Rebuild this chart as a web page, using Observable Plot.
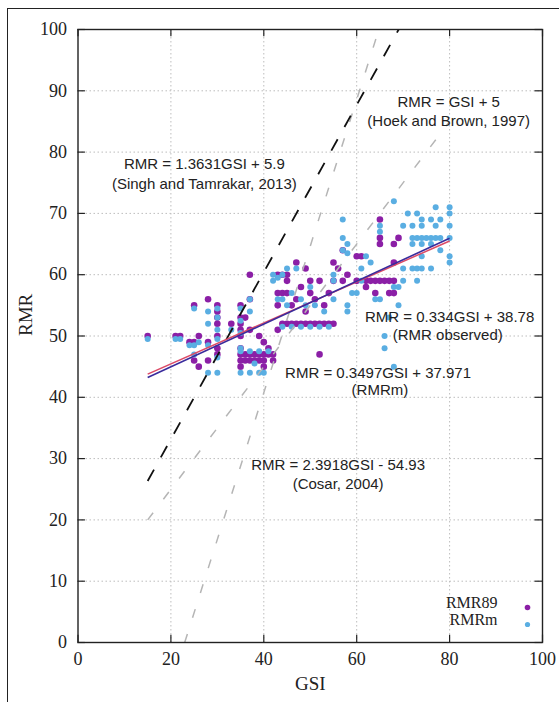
<!DOCTYPE html>
<html><head><meta charset="utf-8">
<script src="https://cdn.jsdelivr.net/npm/d3@7"></script>
<script src="https://cdn.jsdelivr.net/npm/@observablehq/plot@0.6"></script>
<style>
body{margin:0;background:#fff;}
#wrap{position:relative;width:559px;height:702px;overflow:hidden;background:#fff;}
#outer{position:absolute;left:7px;top:8px;width:620px;height:800px;border:1.5px solid #222;}
#chart{position:absolute;left:0;top:0;}
</style></head><body>
<div id="wrap"><div id="outer"></div><div id="chart"></div></div>
<script>
const xTicks = [0, 20, 40, 60, 80, 100];
const yTicks = [0, 10, 20, 30, 40, 50, 60, 70, 80, 90, 100];

// RMR89 observations [GSI, RMR]
const rmr89 = [[15,50],[21,50],[22,50],[24,49],[25,55],[25,49],[25,46],[26,50],[26,45],[28,56],[28,49],[28,46],
[30,55],[30,54],[30,53],[30,52],[30,50],[30,48],[30,47],[33,52],[35,55],[35,53],[35,52],[35,51],[35,50],[35,48],
[35,47],[35,46],[35,45],[36,53],[36,47],[36,46],[37,60],[37,56],[37,51],[37,47],[37,46],[38,47],[38,46],[39,50],
[39,47],[39,46],[40,49],[40,47],[40,46],[40,45],[41,48],[41,47],[42,47],[42,46],[43,60],[43,57],[43,55],[43,51],
[44,60],[44,57],[44,52],[45,60],[45,59],[45,57],[45,52],[46,55],[46,52],[47,62],[47,56],[47,52],[48,58],[48,52],
[49,61],[49,54],[49,52],[50,59],[50,57],[50,52],[51,56],[51,52],[52,59],[52,52],[52,47],[53,55],[53,52],[54,57],
[54,52],[55,62],[55,59],[55,52],[56,61],[57,64],[57,59],[58,60],[60,63],[60,59],[61,63],[62,59],[62,58],[63,59],
[64,59],[64,57],[65,69],[65,66],[65,65],[65,59],[66,59],[67,59],[67,57],[68,65],[68,62],[68,59],[68,57],[69,66]];

// RMRm values [GSI, RMR]
const rmrm = [[15,49.5],[21,49.5],[22,49.5],[24,48.5],[25,54.5],[25,48.5],[25,47],[26,49],[28,54],[28,52],[28,48.5],
[28,44],[30,54.5],[30,53],[30,51],[30,49.5],[30,46.5],[30,44],[33,51],[35,54.5],[35,52.5],[35,50.5],[35,48],[35,47.5],
[35,44],[37,56],[37,54],[37,47.5],[37,44],[38,45.5],[39,47.5],[39,44],[40,44],[41,47.5],
[42,60],[42,59],[43,59.5],[43,56],[44,60],[44,56],[44,51.5],[45,61],[45,55],[46,57],[46,51.5],
[47,61],[48,56],[48,51.5],[49,55],[50,58],[50,51.5],[51,55],[52,51.5],[53,54],
[54,51.5],[55,60],[55,59],[55,56],[57,69],[57,66],[57,64],[58,65],[58,63.5],[58,55],[58,54],[59,57],[60,57],[61,61],
[61,59],[62,63],[63,62],[64,56],[65,68],[65,67],[65,56],[66,50],[66,48],[67,53],[68,72],[68,58],[68,45],[69,58],[69,55],
[70,68],[70,61],[70,59],[71,70],[72,68],[72,66],[72,65],[72,61],[73,70],[73,66],[73,61],[73,59],[74,69],[74,68],[74,66],
[74,65],[74,63],[74,61],[75,66],[76,69],[76,66],[76,65],[76,61],[77,71],[77,68],[77,66],[78,69],[78,66],[78,64],
[80,71],[80,70],[80,68],[80,66],[80,63],[80,62]];

// Equations: slope, intercept, GSI range
const fitObserved = {a: 0.334, b: 38.78, from: 15, to: 80};
const fitM = {a: 0.3497, b: 37.971, from: 15, to: 80};
const singh = {a: 1.3631, b: 5.9, from: 15};
const hoek = {a: 1, b: 5, from: 15, to: 80};
const cosar = {a: 2.3918, b: -54.93};

const eqLabels = ["RMR = GSI + 5", "(Hoek and Brown, 1997)",
  "RMR = 1.3631GSI + 5.9", "(Singh and Tamrakar, 2013)",
  "RMR = 0.334GSI + 38.78", "(RMR observed)",
  "RMR = 0.3497GSI + 37.971", "(RMRm)",
  "RMR = 2.3918GSI - 54.93", "(Cosar, 2004)"];
const legendLabels = ["RMR89", "RMRm"];

const seg = (e, x1, x2) => [{x1, y1: e.a * x1 + e.b, x2, y2: e.a * x2 + e.b}];
const annPos = [[79.8,88.1],[79.8,85.0],[27.2,78.1],[27.2,74.7],[80.0,53.0],[79.6,50.1],[64.6,44.0],[65.0,41.1],[56.0,29.0],[56.0,25.9]];
const ann = eqLabels.map((t, i) => ({t, x: annPos[i][0], y: annPos[i][1]}));

const purple = "#8b1fa6", blue = "#5aaee2";

const chart = Plot.plot({
  width: 559, height: 702,
  marginLeft: 77.5, marginRight: 17, marginTop: 29, marginBottom: 60,
  style: {fontFamily: "'Liberation Serif','Times New Roman',serif", fontSize: "18px", background: "transparent", color: "#222"},
  x: {domain: [0, 100]},
  y: {domain: [0, 100]},
  marks: [
    Plot.gridX(xTicks.slice(1, -1), {stroke: "#bdbdbd", strokeOpacity: 1, strokeDasharray: "1.5,2.5"}),
    Plot.gridY(yTicks.slice(1, -1), {stroke: "#bdbdbd", strokeOpacity: 1, strokeDasharray: "1.5,2.5"}),
    Plot.axisX(xTicks, {tickSize: 0, tickPadding: 10, fontSize: 18, label: null, fill: "#222"}),
    Plot.axisY(yTicks, {tickSize: 0, tickPadding: 11, fontSize: 18, label: null, fill: "#222"}),
    Plot.ruleX(xTicks, {x: d => d, y1: 0, y2: 1.2, stroke: "#222", strokeWidth: 1.2}),
    Plot.ruleX(xTicks, {x: d => d, y1: 98.8, y2: 100, stroke: "#222", strokeWidth: 1.2}),
    Plot.ruleY(yTicks, {y: d => d, x1: 0, x2: 1.6, stroke: "#222", strokeWidth: 1.2}),
    Plot.ruleY(yTicks, {y: d => d, x1: 98.4, x2: 100, stroke: "#222", strokeWidth: 1.2}),
    Plot.dot(rmr89, {x: d => d[0], y: d => d[1], r: 3.3, fill: purple, stroke: "none"}),
    Plot.dot(rmrm, {x: d => d[0], y: d => d[1], r: 3, fill: blue, stroke: "none"}),
    Plot.link(seg(hoek, hoek.from, hoek.to), {x1: "x1", y1: "y1", x2: "x2", y2: "y2", stroke: "#b5b5b5", strokeWidth: 1.5, strokeDasharray: "9,17"}),
    Plot.link(seg(cosar, (0 - cosar.b) / cosar.a, (100 - cosar.b) / cosar.a), {x1: "x1", y1: "y1", x2: "x2", y2: "y2", stroke: "#b5b5b5", strokeWidth: 1.5, strokeDasharray: "9,17"}),
    Plot.link(seg(singh, singh.from, (100 - singh.b) / singh.a), {x1: "x1", y1: "y1", x2: "x2", y2: "y2", stroke: "#111", strokeWidth: 1.8, strokeDasharray: "13,14"}),
    Plot.link(seg(fitObserved, fitObserved.from, fitObserved.to), {x1: "x1", y1: "y1", x2: "x2", y2: "y2", stroke: "#dc4a66", strokeWidth: 1.5}),
    Plot.link(seg(fitM, fitM.from, fitM.to), {x1: "x1", y1: "y1", x2: "x2", y2: "y2", stroke: "#3a2b9c", strokeWidth: 1.6}),
    Plot.text(ann, {x: "x", y: "y", text: "t", fontFamily: "'Liberation Sans',Arial,sans-serif", fontSize: 15, fill: "#222"}),
    Plot.text([legendLabels[0]], {frameAnchor: "bottom-right", dx: -45, dy: -35, textAnchor: "end", fontSize: 16, fill: "#222"}),
    Plot.text([legendLabels[1]], {frameAnchor: "bottom-right", dx: -45, dy: -18, textAnchor: "end", fontSize: 16, fill: "#222"}),
    Plot.dot([legendLabels[0]], {frameAnchor: "bottom-right", dx: -15, dy: -35, r: 2.8, fill: purple}),
    Plot.dot([legendLabels[1]], {frameAnchor: "bottom-right", dx: -15, dy: -18, r: 2.6, fill: blue}),
    Plot.text(["RMR"], {frameAnchor: "left", dx: -52, rotate: -90, fontSize: 19, fill: "#222"}),
    Plot.text(["GSI"], {frameAnchor: "bottom", dy: 47, fontSize: 19, fill: "#222"}),
    Plot.frame({stroke: "#222", strokeWidth: 1.4})
  ]
});
document.getElementById("chart").appendChild(chart);
</script>
</body></html>
